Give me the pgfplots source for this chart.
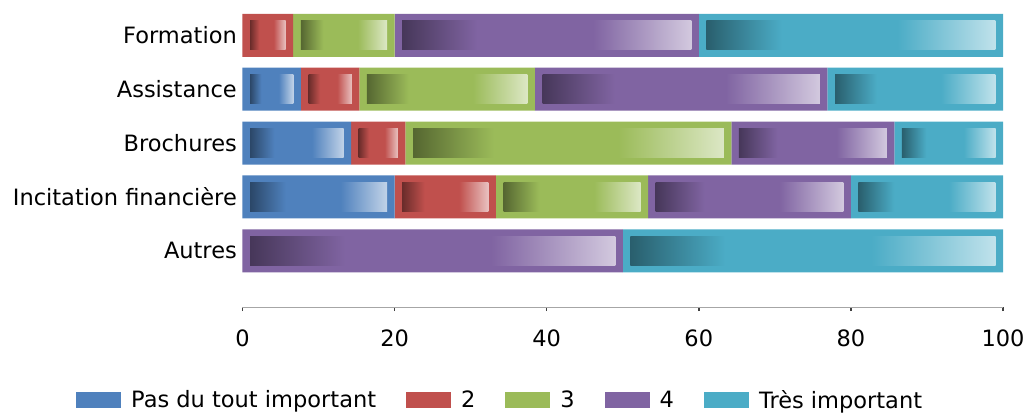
\documentclass[border=0pt]{standalone}
\usepackage{fontspec}
\setmainfont{DejaVu Sans}
\usepackage{pgfplots}
\usepackage{pgfplotstable}
\pgfplotsset{compat=1.18}

\definecolor{cb}{HTML}{4F81BD}
\definecolor{cr}{HTML}{C0504D}
\definecolor{cg}{HTML}{9BBB59}
\definecolor{cp}{HTML}{8064A2}
\definecolor{ct}{HTML}{4BACC6}
\colorlet{cbd}{cb!55!black}\colorlet{cbl}{cb!35!white}
\colorlet{crd}{cr!55!black}\colorlet{crl}{cr!35!white}
\colorlet{cgd}{cg!55!black}\colorlet{cgl}{cg!35!white}
\colorlet{cpd}{cp!55!black}\colorlet{cpl}{cp!35!white}
\colorlet{ctd}{ct!55!black}\colorlet{ctl}{ct!35!white}

\pgfdeclarehorizontalshading{shb}{100bp}{color(0bp)=(cbd); color(25bp)=(cbd); color(38bp)=(cb); color(58bp)=(cb); color(75bp)=(cbl); color(100bp)=(cbl)}
\pgfdeclarehorizontalshading{shr}{100bp}{color(0bp)=(crd); color(25bp)=(crd); color(38bp)=(cr); color(58bp)=(cr); color(75bp)=(crl); color(100bp)=(crl)}
\pgfdeclarehorizontalshading{shg}{100bp}{color(0bp)=(cgd); color(25bp)=(cgd); color(38bp)=(cg); color(58bp)=(cg); color(75bp)=(cgl); color(100bp)=(cgl)}
\pgfdeclarehorizontalshading{shp}{100bp}{color(0bp)=(cpd); color(25bp)=(cpd); color(38bp)=(cp); color(58bp)=(cp); color(75bp)=(cpl); color(100bp)=(cpl)}
\pgfdeclarehorizontalshading{sht}{100bp}{color(0bp)=(ctd); color(25bp)=(ctd); color(38bp)=(ct); color(58bp)=(ct); color(75bp)=(ctl); color(100bp)=(ctl)}

% percentages: 1 = Pas du tout important ... 5 = Tres important
\pgfplotstableread{
y v1 v2 v3 v4 v5
0 0 6.67 13.33 40 40
1 7.69 7.69 23.08 38.46 23.08
2 14.29 7.14 42.86 21.43 14.29
3 20 13.33 20 26.67 20
4 0 0 0 50 50
}\data

% inner gradient parts (pad, gradient, pad for each segment), one table per bar
\pgfplotstableread{
y p1 g1 p2 g2 p3 g3 p4 g4 p5 g5
0 0 0.001 0.99 4.69 0.99 11.35 0.99 38.02 0.99 38.02
}\innerA
\pgfplotstableread{
y p1 g1 p2 g2 p3 g3 p4 g4 p5 g5
1 0.99 5.71 0.99 5.71 0.99 21.10 0.99 36.48 0.99 21.10
}\innerB
\pgfplotstableread{
y p1 g1 p2 g2 p3 g3 p4 g4 p5 g5
2 0.99 12.31 0.99 5.16 0.99 40.88 0.99 19.45 0.99 12.31
}\innerC
\pgfplotstableread{
y p1 g1 p2 g2 p3 g3 p4 g4 p5 g5
3 0.99 18.02 0.99 11.35 0.99 18.02 0.99 24.69 0.99 18.02
}\innerD
\pgfplotstableread{
y p1 g1 p2 g2 p3 g3 p4 g4 p5 g5
4 0 0.001 0 0.001 0 0.001 0.99 48.02 0.99 48.02
}\innerE

\pgfplotsset{
  mybase/.style={
    scale only axis, width=760.5pt, height=307pt,
    at={(242.5pt,110pt)}, anchor=south west,
    xmin=0, xmax=100, ymin=-0.655, ymax=5.041, y dir=reverse,
    xbar stacked,
  },
}

\newcommand\innerrow[1]{%
\begin{axis}[mybase, bar width=29pt, hide axis]
\addplot[draw=none, fill=none] table[x=p1, y=y]{#1};
\addplot[draw=none, shade, shading=shb] table[x=g1, y=y]{#1};
\addplot[draw=none, fill=none] table[x=p1, y=y]{#1};
\addplot[draw=none, fill=none] table[x=p2, y=y]{#1};
\addplot[draw=none, shade, shading=shr] table[x=g2, y=y]{#1};
\addplot[draw=none, fill=none] table[x=p2, y=y]{#1};
\addplot[draw=none, fill=none] table[x=p3, y=y]{#1};
\addplot[draw=none, shade, shading=shg] table[x=g3, y=y]{#1};
\addplot[draw=none, fill=none] table[x=p3, y=y]{#1};
\addplot[draw=none, fill=none] table[x=p4, y=y]{#1};
\addplot[draw=none, shade, shading=shp] table[x=g4, y=y]{#1};
\addplot[draw=none, fill=none] table[x=p4, y=y]{#1};
\addplot[draw=none, fill=none] table[x=p5, y=y]{#1};
\addplot[draw=none, shade, shading=sht] table[x=g5, y=y]{#1};
\addplot[draw=none, fill=none] table[x=p5, y=y]{#1};
\end{axis}}

\begin{document}
\begin{tikzpicture}
\useasboundingbox (0,0) rectangle (1031pt,417pt);
\begin{axis}[mybase,
  bar width=43pt,
  axis x line*=bottom, axis y line*=left,
  y axis line style={draw=none},
  x axis line style={-, draw=black!35, line width=1pt},
  ytick={0,1,2,3,4},
  yticklabels={Formation,Assistance,Brochures,Incitation financière,Autres},
  ytick style={draw=none},
  xtick={0,20,40,60,80,100},
  xtick style={draw=black!75, line width=1.5pt},
  tick align=outside, major tick length=4pt,
  /pgf/number format/assume math mode=true,
  tick label style={font=\fontsize{22.5}{26}\selectfont},
  yticklabel style={inner sep=0pt, xshift=-1.5pt},
  xticklabel style={inner sep=0pt, yshift=-19pt},
  legend style={at={(axis description cs:-0.2189,-0.303)}, anchor=west,
    draw=none, fill=none, inner sep=0pt, column sep=10pt,
    font=\fontsize{22.5}{26}\selectfont,
    nodes={inner sep=0pt},
    /tikz/every even column/.append style={column sep=30pt}},
  legend columns=-1,
  legend image code/.code={\fill[#1, draw=none] (0pt,-8pt) rectangle (45pt,8pt);},
]
\addplot[fill=cb, draw=none, forget plot] table[x=v1, y=y]{\data};
\addplot[fill=cr, draw=none, forget plot] table[x=v2, y=y]{\data};
\addplot[fill=cg, draw=none, forget plot] table[x=v3, y=y]{\data};
\addplot[fill=cp, draw=none, forget plot] table[x=v4, y=y]{\data};
\addplot[fill=ct, draw=none, forget plot] table[x=v5, y=y]{\data};
\addlegendimage{fill=cb}\addlegendentry{Pas du tout important}
\addlegendimage{fill=cr}\addlegendentry{2}
\addlegendimage{fill=cg}\addlegendentry{3}
\addlegendimage{fill=cp}\addlegendentry{4}
\addlegendimage{fill=ct}\addlegendentry{Très important}
\end{axis}
\innerrow{\innerA}
\innerrow{\innerB}
\innerrow{\innerC}
\innerrow{\innerD}
\innerrow{\innerE}
\end{tikzpicture}
\end{document}
